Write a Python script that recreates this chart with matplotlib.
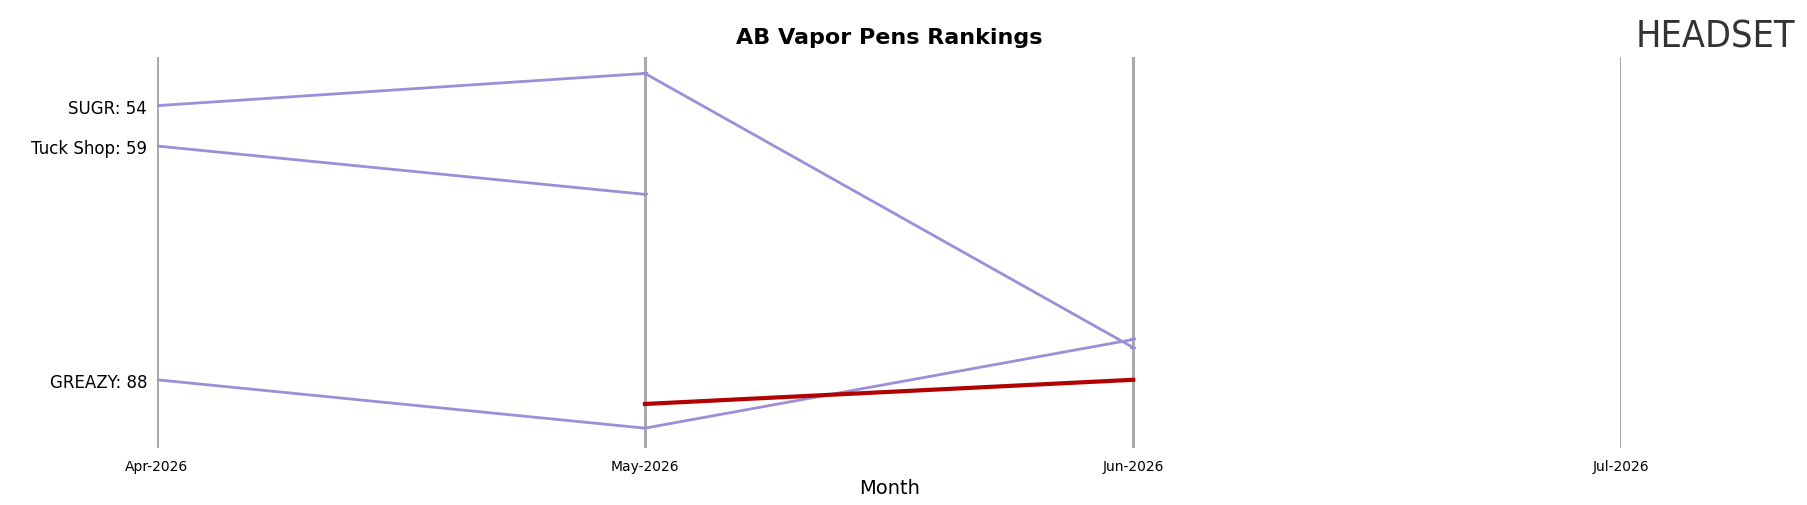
import matplotlib
matplotlib.use("Agg")
import matplotlib.pyplot as plt
import numpy as np

months = ["Apr-2026", "May-2026", "Jun-2026", "Jul-2026"]
sugr = [54, 50, 84, np.nan]
tuck = [59, 65, np.nan, np.nan]
greazy = [88, 94, 83, np.nan]
highlight = [np.nan, 91, 88, np.nan]
labels = {"SUGR": 54, "Tuck Shop": 59, "GREAZY": 88}

fig = plt.figure(figsize=(18.07, 5.06), dpi=100)
ax = fig.add_axes([136/1568, 1-390/440, (1407-136)/1568, 340/440])
x = np.arange(len(months))
for xi in x:
    ax.axvline(xi, color="#aaaaaa", lw=2.2, zorder=0)
for s in (sugr, tuck, greazy):
    ax.plot(x, s, color="#9b8fd8", lw=2, marker="_", ms=5, mew=1.5)
ax.plot(x, highlight, color="#b30000", lw=3)
ax.set_xlim(0, 3)
ax.set_ylim(96.4, 47.9)
ax.set_yticks(list(labels.values()))
ax.set_yticklabels([f"{k}: {v}" for k, v in labels.items()], fontsize=12)
ax.set_xticks(x)
ax.set_xticklabels(months, fontsize=10)
ax.tick_params(length=0, pad=8)
ax.tick_params(axis="y", pad=7)
for sp in ax.spines.values():
    sp.set_visible(False)
ax.set_xlabel("Month", fontsize=14)
ax.set_title("AB Vapor Pens Rankings", fontsize=16, fontweight="bold", pad=10)
ax.set_clip_on(False)
fig.text(0.905, 0.925, "HEADSET", fontsize=27, color="#333333", ha="left", va="center", fontstretch="condensed")
fig.savefig("out.png")
